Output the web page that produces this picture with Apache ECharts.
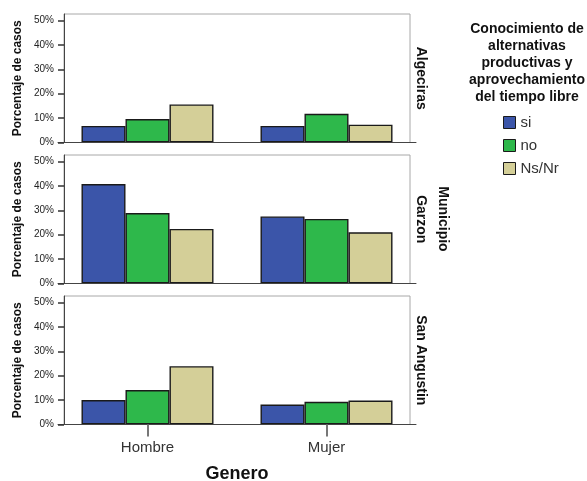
<!DOCTYPE html>
<html>
<head>
<meta charset="utf-8">
<script src="https://cdn.jsdelivr.net/npm/echarts@6/dist/echarts.min.js"></script>
<style>html,body{margin:0;padding:0;background:#fff}#c{width:587px;height:481px}</style>
</head>
<body>
<div id="c"></div>
<script>
var categories = ['Hombre', 'Mujer'];
var panels = ['Algeciras', 'Garzon', 'San Angustin'];
var seriesNames = ['si', 'no', 'Ns/Nr'];
var yTicks = [0, 10, 20, 30, 40, 50];
// values per panel: [Hombre, Mujer]
var algecirasSi = [6.8, 6.8];
var algecirasNo = [9.6, 11.8];
var algecirasNsNr = [15.6, 7.3];
var garzonSi = [40.8, 27.5];
var garzonNo = [28.9, 26.5];
var garzonNsNr = [22.4, 21.0];
var sanAngustinSi = [10.0, 8.2];
var sanAngustinNo = [14.1, 9.3];
var sanAngustinNsNr = [23.9, 9.8];

var panelData = [
  [algecirasSi, algecirasNo, algecirasNsNr],
  [garzonSi, garzonNo, garzonNsNr],
  [sanAngustinSi, sanAngustinNo, sanAngustinNsNr]
];
var colors = ['#3b55a9', '#2eb84b', '#d4cf98'];
var tops = [14, 155, 296];
var H = 128.5;
var FONT = 'Liberation Sans, Arial, sans-serif';

var grids = [], xAxes = [], yAxes = [], series = [], graphics = [];
panels.forEach(function (p, i) {
  // data grid (wider, to place categories as in reference)
  grids.push({ left: 58, right: 171, top: tops[i], height: H, show: false, outerBoundsMode: 'none', containLabel: false });
  // frame grid
  grids.push({ left: 64, right: 177, top: tops[i], height: H, show: true, borderColor: '#a8a8a8', borderWidth: 1, backgroundColor: 'transparent', outerBoundsMode: 'none', containLabel: false });
  var last = i === panels.length - 1;
  xAxes.push({
    type: 'category', gridIndex: 2 * i, data: categories,
    axisLine: { show: true, lineStyle: { color: '#444', width: 1 } },
    axisTick: { show: last, alignWithLabel: true, length: 12, lineStyle: { color: '#777', width: 2 } },
    axisLabel: { show: last, fontSize: 15, color: '#333', fontFamily: FONT, margin: 16 },
    name: last ? 'Genero' : '', nameLocation: 'middle', nameGap: 41, nameMoveOverlap: false,
    nameTextStyle: { fontSize: 18, fontWeight: 'bold', color: '#111', fontFamily: FONT },
    z: 5
  });
  xAxes.push({ type: 'value', gridIndex: 2 * i + 1, show: false });
  yAxes.push({
    type: 'value', gridIndex: 2 * i, min: 0, max: 52.7, offset: -6,
    axisLine: { show: true, lineStyle: { color: '#444', width: 1 } },
    axisTick: { show: true, length: 6, lineStyle: { color: '#333', width: 1.5 }, customValues: yTicks },
    axisLabel: { fontSize: 10, color: '#222', fontFamily: FONT, margin: 10, customValues: yTicks,
      formatter: function (v) { return v + '%'; } },
    splitLine: { show: false },
    name: 'Porcentaje de casos', nameLocation: 'middle', nameGap: 40, nameRotate: 90, nameMoveOverlap: false,
    nameTextStyle: { fontSize: 12, fontWeight: 'bold', color: '#111', fontFamily: FONT },
    z: 5
  });
  yAxes.push({ type: 'value', gridIndex: 2 * i + 1, show: false });
  seriesNames.forEach(function (s, k) {
    series.push({
      type: 'bar', name: s, xAxisIndex: 2 * i, yAxisIndex: 2 * i,
      data: panelData[i][k], barWidth: 44, barGap: '0%',
      itemStyle: { color: colors[k], borderColor: '#1a1a1a', borderWidth: 1.4 },
      emphasis: { disabled: true }
    });
  });
  graphics.push({
    type: 'text', x: 421, y: tops[i] + H / 2, rotation: -Math.PI / 2,
    style: { text: p, fontSize: 14, fontWeight: 'bold', fill: '#111', fontFamily: FONT, align: 'center', verticalAlign: 'middle' }
  });
});
graphics.push({
  type: 'text', x: 443, y: 219, rotation: -Math.PI / 2,
  style: { text: 'Municipio', fontSize: 14, fontWeight: 'bold', fill: '#111', fontFamily: FONT, align: 'center', verticalAlign: 'middle' }
});
graphics.push({
  type: 'text', x: 527, y: 21,
  style: { text: 'Conocimiento de\nalternativas\nproductivas y\naprovechamiento\ndel tiempo libre', fontSize: 14, lineHeight: 17, fontWeight: 'bold', fill: '#111', fontFamily: FONT, align: 'center', verticalAlign: 'top' }
});

var chart = echarts.init(document.getElementById('c'), null, { renderer: 'canvas' });
chart.setOption({
  animation: false,
  grid: grids, xAxis: xAxes, yAxis: yAxes, series: series,
  legend: {
    data: seriesNames, orient: 'vertical', left: 498, top: 110,
    itemWidth: 12, itemHeight: 12, itemGap: 8, icon: 'rect',
    itemStyle: { borderColor: '#1a1a1a', borderWidth: 1 },
    textStyle: { fontSize: 15, color: '#333', fontFamily: FONT },
    selectedMode: false
  },
  graphic: graphics
});
</script>
</body>
</html>
